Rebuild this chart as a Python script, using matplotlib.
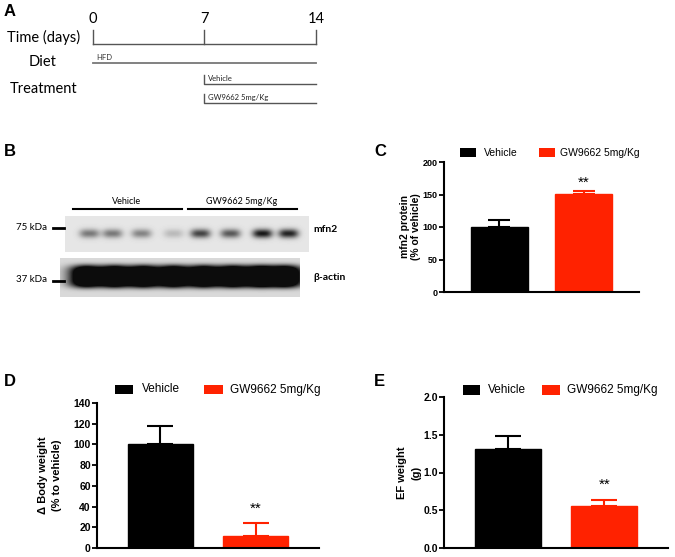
import matplotlib
matplotlib.use('Agg')
import matplotlib.pyplot as plt
import numpy as np
from matplotlib.patches import Rectangle
from matplotlib.ticker import FormatStrFormatter

W, H = 675, 557
fig = plt.figure(figsize=(6.75, 5.57), dpi=100)
plt.rcParams['font.family'] = ['Liberation Sans', 'DejaVu Sans']

# ---------------- data ----------------
groups = ['Vehicle', 'GW9662 5mg/Kg']
colors = ['#000000', '#ff2200']
mfn2_mean = [100, 151]
mfn2_err = [11, 5]
bw_mean = [100, 12]
bw_err = [18, 12]
ef_mean = [1.31, 0.56]
ef_err = [0.18, 0.08]
timeline_days = [0, 7, 14]
treat_start = 7
band_mfn2 = [0.50, 0.50, 0.45, 0.20, 0.75, 0.65, 0.95, 0.90]
band_actin = [1.0, 1.0, 1.0, 1.0, 1.0, 1.0, 1.0, 1.0]
mfn2_yticks = [0, 50, 100, 150, 200]
bw_yticks = [0, 20, 40, 60, 80, 100, 120, 140]
ef_yticks = [0.0, 0.5, 1.0, 1.5, 2.0]


def ax_px(l, t, r, b):
    return fig.add_axes([l / W, 1 - b / H, (r - l) / W, (b - t) / H])


def ftext(x, y, s, **kw):
    kw.setdefault('va', 'center')
    return fig.text(x / W, 1 - y / H, s, **kw)


def frect(l, t, r, b, color):
    fig.patches.append(Rectangle((l / W, 1 - b / H), (r - l) / W, (b - t) / H,
                                 transform=fig.transFigure, color=color, lw=0))


# ---------------- panel letters ----------------
for lab, x, y in [('A', 4, 11), ('B', 4, 151), ('C', 374, 151), ('D', 4, 382), ('E', 374, 382)]:
    ftext(x, y, lab, fontsize=12, fontweight='bold')

# ---------------- Panel A: timeline ----------------
s = (316 - 93) / 14.0
axA = ax_px(0, 0, 340, 120)
axA.set_xlim(-93 / s, (340 - 93) / s)
axA.set_ylim(120, 0)
axA.axis('off')
tfont = ['Lato', 'DejaVu Sans']
axA.plot([timeline_days[0], timeline_days[-1]], [44, 44], color='#555555', lw=1.0)
for d in timeline_days:
    axA.plot([d, d], [30, 44], color='#555555', lw=1.0)
    axA.text(d, 19, str(d), ha='center', va='center', fontsize=10.5, family=tfont)
axA.plot([timeline_days[0], timeline_days[-1]], [63, 63], color='#777777', lw=1.3)
axA.text(0.2, 57, 'HFD', fontsize=5.5, va='center', family=tfont, color='#333333')
axA.plot([treat_start, treat_start, timeline_days[-1]], [75, 84, 84], color='#555555', lw=1.0)
axA.text(treat_start + 0.2, 78.5, 'Vehicle', fontsize=5.5, va='center', family=tfont, color='#222222')
axA.plot([treat_start, treat_start, timeline_days[-1]], [94, 103, 103], color='#555555', lw=1.0)
axA.text(treat_start + 0.2, 97.5, 'GW9662 5mg/Kg', fontsize=5.5, va='center', family=tfont, color='#222222')
ftext(44, 37, 'Time (days)', ha='center', fontsize=10.5, family=tfont)
ftext(43, 62, 'Diet', ha='center', fontsize=10.5, family=tfont)
ftext(44, 89, 'Treatment', ha='center', fontsize=10.5, family=tfont)

# ---------------- Panel B: western blot ----------------
lane_x_up = [24, 47, 76, 108, 135, 165, 197, 223]
axU = ax_px(65, 216, 309, 252)
hu, wu = 36, 244
yy, xx = np.mgrid[0:hu, 0:wu]
img = np.full((hu, wu), 0.90)
for cx, a in zip(lane_x_up, band_mfn2):
    img -= 0.85 * a * np.exp(-(np.abs(xx - cx) / 10.0) ** 3 - ((yy - 17) / 4.5) ** 2)
axU.imshow(np.clip(img, 0, 1), cmap='gray', vmin=0, vmax=1, aspect='auto',
           interpolation='bilinear')
axU.axis('off')

lane_x_lo = [25, 54, 83, 113, 143, 172, 200, 226]
axL = ax_px(60, 258, 300, 297)
hl, wl = 39, 240
yy, xx = np.mgrid[0:hl, 0:wl]
dark = np.zeros((hl, wl))
for cx, a in zip(lane_x_lo, band_actin):
    dark += a * np.exp(-(np.abs(xx - cx) / 16.0) ** 2 - (np.abs(yy - 18) / 11.0) ** 4)
img2 = 0.85 - 0.8 * np.clip(dark * 1.8, 0, 1)
axL.imshow(np.clip(img2, 0, 1), cmap='gray', vmin=0, vmax=1, aspect='auto',
           interpolation='bilinear')
axL.axis('off')

fig.add_artist(plt.Line2D([73 / W, 182 / W], [1 - 209 / H] * 2, color='black', lw=1.5))
fig.add_artist(plt.Line2D([188 / W, 297 / W], [1 - 209 / H] * 2, color='black', lw=1.5))
ftext(127, 202, groups[0], ha='center', fontsize=6.5, family=tfont)
ftext(242, 202, groups[1], ha='center', fontsize=6.5, family=tfont)
ftext(47, 227, '75 kDa', ha='right', fontsize=7, family=tfont)
ftext(47, 280, '37 kDa', ha='right', fontsize=7, family=tfont)
fig.add_artist(plt.Line2D([53 / W, 64 / W], [1 - 228 / H] * 2, color='black', lw=2))
fig.add_artist(plt.Line2D([53 / W, 64 / W], [1 - 281 / H] * 2, color='black', lw=2))
ftext(313, 229, 'mfn2', fontsize=7.5, fontweight='bold', family=tfont)
ftext(313, 277, 'β-actin', fontsize=7.5, fontweight='bold', family=tfont)


# ---------------- bar panels ----------------
def bar_panel(box, means, errs, yticks, ylabel, fmt, star_off, capsize, legend_px, fs_leg,
              fs_tick, fs_lab, labelpad, linespacing):
    ax = ax_px(*box)
    x = np.arange(len(means))
    ax.bar(x, means, width=0.68, color=colors, edgecolor=colors)
    for i in range(len(means)):
        ax.errorbar(x[i], means[i], yerr=[[0], [errs[i]]], fmt='none', ecolor=colors[i],
                    elinewidth=1.5, capsize=capsize, capthick=1.5)
    ax.set_xlim(-0.66, 1.66)
    ax.set_ylim(yticks[0], yticks[-1])
    ax.set_yticks(yticks)
    ax.yaxis.set_major_formatter(FormatStrFormatter(fmt))
    ax.set_xticks([])
    for sp in ['top', 'right']:
        ax.spines[sp].set_visible(False)
    for sp in ['left', 'bottom']:
        ax.spines[sp].set_linewidth(1.5)
    ax.tick_params(axis='y', width=1.3, length=3.5, labelsize=fs_tick, pad=1.0)
    for t in ax.get_yticklabels():
        t.set_fontweight('bold')
    ax.set_ylabel(ylabel, fontsize=fs_lab, fontweight='bold', labelpad=labelpad,
                  linespacing=linespacing)
    ax.text(1, means[1] + errs[1] + star_off, '**', ha='center', va='center', fontsize=11)
    (bl, br, rl, rr, top, bot, tv, tg) = legend_px
    frect(bl, top, br, bot, colors[0])
    frect(rl, top, rr, bot, colors[1])
    ftext(tv, (top + bot) / 2, groups[0], fontsize=fs_leg)
    ftext(tg, (top + bot) / 2, groups[1], fontsize=fs_leg)
    return ax


bar_panel((444, 162, 639, 292), mfn2_mean, mfn2_err, mfn2_yticks,
          'mfn2 protein\n(% of vehicle)', '%d', 12, 8,
          (460, 476, 539, 555, 148, 157, 484, 560), 7.5, 6.5, 7.5, 1.0, 1.1)
bar_panel((97, 403, 319, 548), bw_mean, bw_err, bw_yticks,
          '\u0394 Body weight\n(% to vehicle)', '%d', 14, 9.5,
          (115, 133, 204, 223, 385, 394, 142, 230), 8.5, 7.5, 8, 8, 1.6)
bar_panel((444, 397, 668, 548), ef_mean, ef_err, ef_yticks,
          'EF weight\n(g)', '%.1f', 0.20, 9.5,
          (463, 480, 542, 560, 385, 395, 488, 567), 8.5, 7.5, 8, 1.0, 1.6)

fig.savefig('out.png', dpi=100)
